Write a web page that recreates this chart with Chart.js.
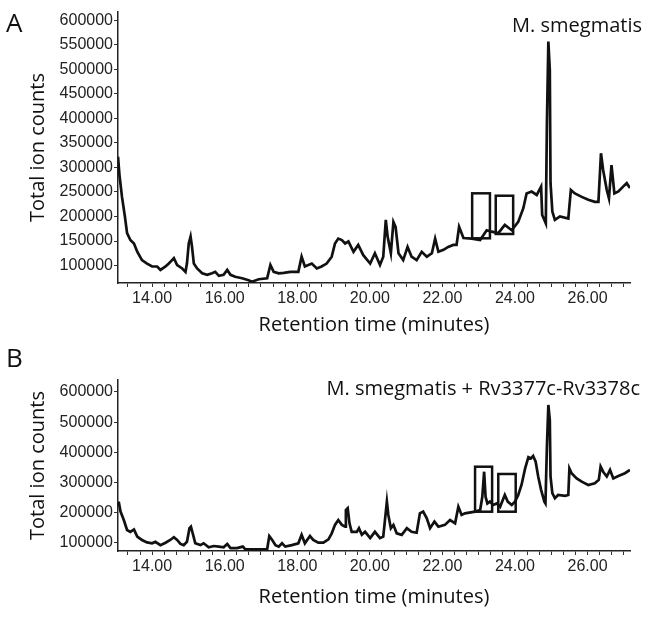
<!DOCTYPE html>
<html>
<head>
<meta charset="utf-8">
<script src="https://cdn.jsdelivr.net/npm/chart.js"></script>
<style>
  body { margin: 0; background: #fff; width: 649px; height: 617px; overflow: hidden; position: relative; }
  canvas { position: absolute; left: 0; }
  #chartA { top: 0; }
  #chartB { top: 340px; }
</style>
</head>
<body>
<canvas id="chartA" width="649" height="340"></canvas>
<canvas id="chartB" width="649" height="277"></canvas>
<script>
// retention time (minutes) / total ion counts
const timesA = [13.06, 13.10, 13.17, 13.25, 13.31, 13.40, 13.50, 13.59, 13.72, 13.86, 14.00, 14.14, 14.23, 14.37, 14.46, 14.55, 14.60, 14.69, 14.83, 14.92, 14.96, 15.01, 15.06, 15.10, 15.15, 15.24, 15.38, 15.52, 15.65, 15.74, 15.84, 15.97, 16.07, 16.16, 16.29, 16.48, 16.66, 16.75, 16.94, 17.17, 17.26, 17.35, 17.49, 17.63, 17.81, 18.03, 18.12, 18.21, 18.40, 18.54, 18.67, 18.81, 18.95, 19.04, 19.13, 19.23, 19.32, 19.41, 19.55, 19.68, 19.82, 20.01, 20.14, 20.28, 20.37, 20.44, 20.49, 20.58, 20.65, 20.71, 20.79, 20.92, 21.04, 21.15, 21.29, 21.43, 21.57, 21.71, 21.80, 21.89, 22.03, 22.16, 22.30, 22.39, 22.46, 22.58, 22.81, 23.04, 23.22, 23.36, 23.54, 23.72, 23.91, 24.09, 24.23, 24.32, 24.46, 24.60, 24.72, 24.75, 24.85, 24.88, 24.92, 24.96, 24.98, 25.03, 25.10, 25.24, 25.47, 25.54, 25.65, 25.84, 26.02, 26.20, 26.30, 26.37, 26.43, 26.53, 26.59, 26.66, 26.74, 26.85, 26.98, 27.08, 27.17];
const countsA = [322000, 285000, 240000, 200000, 166000, 152000, 145000, 128000, 111000, 104000, 98000, 98000, 91000, 98000, 104000, 111000, 115000, 101000, 94000, 87000, 104000, 145000, 159000, 138000, 104000, 94000, 84000, 81000, 84000, 87000, 79000, 81000, 91000, 81000, 77000, 74000, 70000, 67000, 72000, 74000, 101000, 87000, 84000, 85000, 87000, 87000, 118000, 98000, 104000, 94000, 98000, 104000, 118000, 145000, 155000, 152000, 145000, 149000, 128000, 142000, 121000, 104000, 125000, 101000, 118000, 193000, 159000, 125000, 189000, 179000, 125000, 111000, 138000, 118000, 111000, 128000, 118000, 125000, 155000, 128000, 132000, 138000, 142000, 142000, 179000, 156000, 155000, 152000, 172000, 169000, 166000, 183000, 172000, 189000, 217000, 247000, 251000, 244000, 261000, 203000, 186000, 390000, 557000, 499000, 268000, 210000, 193000, 200000, 196000, 254000, 247000, 240000, 234000, 230000, 230000, 329000, 295000, 254000, 237000, 305000, 247000, 251000, 261000, 268000, 258000];

const timesB = [13.06, 13.08, 13.13, 13.22, 13.31, 13.40, 13.50, 13.59, 13.72, 13.86, 14.00, 14.09, 14.23, 14.37, 14.50, 14.60, 14.69, 14.78, 14.87, 14.96, 15.03, 15.07, 15.13, 15.19, 15.33, 15.42, 15.56, 15.70, 15.84, 15.97, 16.07, 16.16, 16.34, 16.50, 16.57, 16.85, 17.17, 17.23, 17.31, 17.40, 17.49, 17.58, 17.67, 17.85, 18.03, 18.12, 18.21, 18.35, 18.44, 18.58, 18.72, 18.86, 18.95, 19.04, 19.13, 19.23, 19.32, 19.34, 19.39, 19.44, 19.50, 19.64, 19.70, 19.78, 19.87, 20.01, 20.14, 20.28, 20.37, 20.47, 20.51, 20.58, 20.65, 20.74, 20.88, 21.02, 21.15, 21.29, 21.38, 21.47, 21.57, 21.66, 21.78, 21.89, 22.07, 22.21, 22.35, 22.44, 22.53, 22.62, 22.90, 23.04, 23.10, 23.15, 23.19, 23.24, 23.31, 23.40, 23.50, 23.59, 23.72, 23.80, 23.91, 24.00, 24.09, 24.18, 24.28, 24.37, 24.44, 24.50, 24.57, 24.64, 24.72, 24.81, 24.84, 24.88, 24.92, 24.96, 24.98, 25.03, 25.10, 25.19, 25.38, 25.47, 25.50, 25.56, 25.70, 25.84, 26.02, 26.20, 26.31, 26.36, 26.43, 26.53, 26.62, 26.71, 26.85, 27.03, 27.17];
const countsB = [232000, 237000, 204000, 176000, 143000, 137000, 145000, 121000, 110000, 102000, 99000, 104000, 93000, 101000, 110000, 119000, 110000, 97000, 93000, 104000, 149000, 154000, 127000, 99000, 93000, 99000, 86000, 90000, 88000, 86000, 97000, 83000, 83000, 88000, 79000, 79000, 79000, 123000, 110000, 93000, 88000, 99000, 88000, 93000, 99000, 127000, 99000, 123000, 110000, 101000, 101000, 112000, 132000, 160000, 176000, 160000, 154000, 209000, 215000, 165000, 137000, 137000, 149000, 127000, 137000, 116000, 137000, 116000, 121000, 237000, 193000, 149000, 160000, 132000, 127000, 149000, 137000, 134000, 198000, 204000, 182000, 149000, 171000, 154000, 160000, 176000, 165000, 220000, 193000, 198000, 204000, 209000, 253000, 336000, 253000, 231000, 237000, 226000, 231000, 220000, 259000, 237000, 226000, 237000, 259000, 292000, 347000, 384000, 380000, 388000, 369000, 320000, 276000, 237000, 231000, 419000, 557000, 507000, 320000, 265000, 248000, 259000, 256000, 259000, 347000, 331000, 314000, 303000, 292000, 298000, 309000, 353000, 336000, 320000, 342000, 314000, 322000, 331000, 342000];

// highlighted regions: [t0, t1, lowCount, highCount]
const boxesA = [[22.82, 23.31, 155500, 247300], [23.47, 23.95, 164300, 242400]];
const boxesB = [[22.90, 23.37, 203600, 352600], [23.54, 24.02, 203600, 328500]];

const xLabelTicks = [14, 16, 18, 20, 22, 24, 26];
const yTicksA = [100000, 150000, 200000, 250000, 300000, 350000, 400000, 450000, 500000, 550000, 600000];
const yTicksB = [100000, 200000, 300000, 400000, 500000, 600000];

// minor ticks every 1/3 minute
const minorTicks = [];
for (let k = 40; k <= 81; k++) minorTicks.push(k / 3);

const textFont = '"Open Sans", sans-serif';
const tickFont = { family: '"Liberation Sans", Arial, sans-serif', size: 16 };

const annotate = {
  id: 'annotate',
  afterDatasetsDraw(chart, args, opts) {
    const { ctx, scales: { x, y } } = chart;
    ctx.save();
    ctx.strokeStyle = '#111';
    ctx.lineWidth = 2.5;
    opts.boxes.forEach(b => {
      const x0 = x.getPixelForValue(b[0]), x1 = x.getPixelForValue(b[1]);
      const y0 = y.getPixelForValue(b[3]), y1 = y.getPixelForValue(b[2]);
      ctx.strokeRect(x0, y0, x1 - x0, y1 - y0);
    });
    ctx.fillStyle = '#111';
    ctx.font = '20px ' + textFont;
    ctx.textAlign = 'right';
    ctx.textBaseline = 'alphabetic';
    ctx.fillText(opts.sample, opts.sampleX, opts.sampleY);
    ctx.font = '26px ' + textFont;
    ctx.textAlign = 'left';
    ctx.fillText(opts.letter, opts.letterX, opts.letterY);
    ctx.restore();
  }
};

function makeChart(id, times, counts, o) {
  const pts = times.map((t, i) => ({ x: t, y: counts[i] }));
  return new Chart(document.getElementById(id), {
    type: 'line',
    data: { datasets: [{ data: pts, borderColor: '#111', borderWidth: 2.7, pointRadius: 0, tension: 0, fill: false }] },
    plugins: [annotate],
    options: {
      responsive: false,
      animation: false,
      layout: { padding: { top: o.padTop, right: 19, bottom: 0, left: 0 } },
      plugins: {
        legend: { display: false },
        tooltip: { enabled: false },
        annotate: { boxes: o.boxes, sample: o.sample, sampleX: o.sampleX, sampleY: o.sampleY, letter: o.letter, letterX: 6, letterY: o.letterY }
      },
      scales: {
        x: {
          type: 'linear', min: 13.06, max: 27.17,
          afterBuildTicks: s => { s.ticks = minorTicks.map(v => ({ value: v })); },
          afterFit: s => { s.height = o.xHeight; },
          grid: { drawOnChartArea: false, drawTicks: true, tickLength: 4, color: '#333' },
          border: { color: '#222', width: 1.5 },
          ticks: {
            autoSkip: false, maxRotation: 0, padding: 2, color: '#222', font: tickFont,
            callback: v => {
              const r = Math.round(v);
              return (Math.abs(v - r) < 1e-6 && xLabelTicks.includes(r)) ? r.toFixed(2) : '';
            }
          },
          title: { display: true, text: 'Retention time (minutes)', color: '#111', font: { family: textFont, size: 20 }, padding: { top: 0, bottom: o.xTitlePad } }
        },
        y: {
          min: o.yMin, max: o.yMax,
          afterBuildTicks: s => { s.ticks = o.yTicks.map(v => ({ value: v })); },
          afterFit: s => { s.width = 118; },
          grid: { drawOnChartArea: false, drawTicks: true, tickLength: 4, color: '#333' },
          border: { color: '#222', width: 1.5 },
          ticks: { padding: 1, color: '#222', font: tickFont, callback: v => String(v) },
          title: { display: true, text: 'Total ion counts', color: '#111', font: { family: textFont, size: 20 }, padding: { top: 26, bottom: 0 } }
        }
      }
    }
  });
}

makeChart('chartA', timesA, countsA, {
  padTop: 12, xHeight: 57, xTitlePad: 3, yMin: 64300, yMax: 617300, yTicks: yTicksA,
  boxes: boxesA, sample: 'M. smegmatis', sampleX: 642, sampleY: 32, letter: 'A', letterY: 32
});
makeChart('chartB', timesB, countsB, {
  padTop: 40, xHeight: 66, xTitlePad: 8, yMin: 73500, yMax: 639700, yTicks: yTicksB,
  boxes: boxesB, sample: 'M. smegmatis + Rv3377c-Rv3378c', sampleX: 640, sampleY: 55, letter: 'B', letterY: 27
});
</script>
</body>
</html>
